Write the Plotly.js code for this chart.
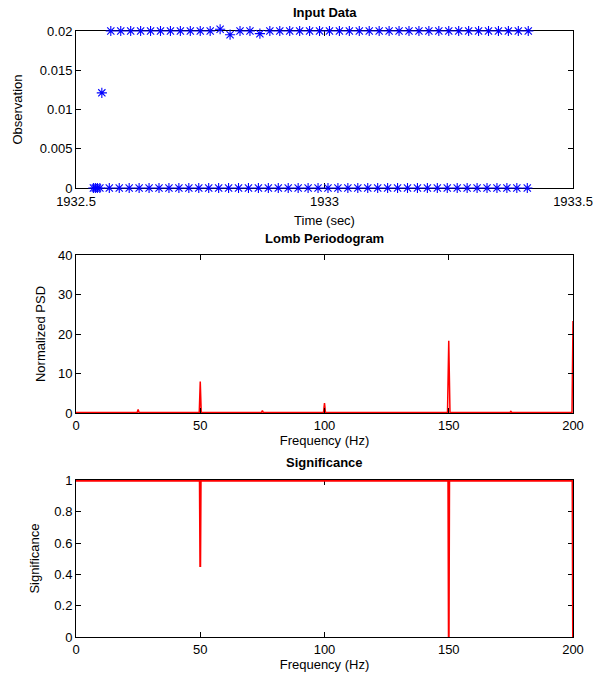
<!DOCTYPE html>
<html>
<head>
<meta charset="utf-8">
<script src="https://cdn.plot.ly/plotly-3.0.1.min.js"></script>
<style>html,body{margin:0;padding:0;background:#fff;}#chart{width:598px;height:681px;}</style>
</head>
<body>
<div id="chart"></div>
<script>
// ---- Input data (time in sec, observation) ----
var tHigh = [1932.570, 1932.590, 1932.610, 1932.630, 1932.650, 1932.670, 1932.690, 1932.710, 1932.730, 1932.750,
             1932.770, 1932.790, 1932.810, 1932.830, 1932.850, 1932.870, 1932.890, 1932.910, 1932.930, 1932.950,
             1932.970, 1932.990, 1933.010, 1933.030, 1933.050, 1933.070, 1933.090, 1933.110, 1933.130, 1933.150,
             1933.170, 1933.190, 1933.210, 1933.230, 1933.250, 1933.270, 1933.290, 1933.310, 1933.330, 1933.350,
             1933.370, 1933.390, 1933.410];
var obsHigh = [0.0200, 0.0200, 0.0200, 0.0200, 0.0200, 0.0200, 0.0200, 0.0200, 0.0200, 0.0200,
               0.0200, 0.02022, 0.01953, 0.0200, 0.0200, 0.01966, 0.0200, 0.0200, 0.0200, 0.0200,
               0.0200, 0.0200, 0.0200, 0.0200, 0.0200, 0.0200, 0.0200, 0.0200, 0.0200, 0.0200,
               0.0200, 0.0200, 0.0200, 0.0200, 0.0200, 0.0200, 0.0200, 0.0200, 0.0200, 0.0200,
               0.0200, 0.0200, 0.0200];
var tLow = [1932.535, 1932.539, 1932.543, 1932.548,
            1932.567, 1932.587, 1932.607, 1932.627, 1932.647, 1932.667, 1932.687, 1932.707, 1932.727, 1932.747,
            1932.767, 1932.787, 1932.807, 1932.827, 1932.847, 1932.867, 1932.887, 1932.907, 1932.927, 1932.947,
            1932.967, 1932.987, 1933.007, 1933.027, 1933.047, 1933.067, 1933.087, 1933.107, 1933.127, 1933.147,
            1933.167, 1933.187, 1933.207, 1933.227, 1933.247, 1933.267, 1933.287, 1933.307, 1933.327, 1933.347,
            1933.367, 1933.387, 1933.408];
var obsLow = [0, 0, 0, 0,
              0, 0, 0, 0, 0, 0, 0, 0, 0, 0,
              0, 0, 0, 0, 0, 0, 0, 0, 0, 0,
              0, 0, 0, 0, 0, 0, 0, 0, 0, 0,
              0, 0, 0, 0, 0, 0, 0, 0, 0, 0,
              0, 0, 0];
var tMid = [1932.552];
var obsMid = [0.01212];

// ---- Lomb periodogram ----
var freqPsd = [0, 24.6, 25, 25.4, 49.6, 50, 50.4, 74.6, 75, 75.4, 99.6, 100, 100.4,
               149.5, 150, 150.5, 174.6, 175, 175.4, 199.6, 200];
var psd = [0.1, 0.1, 0.9, 0.1, 0.1, 8.0, 0.1, 0.1, 0.6, 0.1, 0.1, 2.5, 0.1,
           0.1, 18.3, 0.1, 0.1, 0.4, 0.1, 0.1, 23.3];

// ---- Significance ----
var freqSig = [0, 49.8, 50, 50.2, 149.8, 150, 150.2, 199.8, 200];
var sig = [1, 1, 0.447, 1, 1, 0, 1, 1, 0];

// ---- tick labels ----
var xTicks1 = [1932.5, 1933, 1933.5];
var xTickText1 = ['1932.5', '1933', '1933.5'];
var yTicks1 = [0, 0.005, 0.01, 0.015, 0.02];
var yTickText1 = ['0', '0.005', '0.01', '0.015', '0.02'];
var xTicksF = [0, 50, 100, 150, 200];
var yTicks2 = [0, 10, 20, 30, 40];
var yTicks3 = [0, 0.2, 0.4, 0.6, 0.8, 1];
var yTickText3 = ['0', '0.2', '0.4', '0.6', '0.8', '1'];

var FONT = 'Liberation Sans, Arial, Helvetica, sans-serif';
var starMarker = {symbol: 'asterisk-open', size: 8.5, color: '#0000ff', line: {color: '#0000ff', width: 1.1}};

// panel geometry (plot area spans 616 px tall between margins)
var H = 616;
var p1 = [449 / H, 606 / H];      // input data panel
var p1ext = [449 / H, 1];         // same scale, extended upward so slightly-high points stay visible
var yMax1 = 0.02;
var yMax1ext = yMax1 * (H - 449) / (606 - 449);

var traces = [
  {x: [], y: [], xaxis: 'x', yaxis: 'y', mode: 'markers', hoverinfo: 'skip'},
  {x: tLow, y: obsLow, xaxis: 'x', yaxis: 'y4', mode: 'markers', marker: starMarker, cliponaxis: false, hoverinfo: 'skip'},
  {x: tMid, y: obsMid, xaxis: 'x', yaxis: 'y4', mode: 'markers', marker: starMarker, cliponaxis: false, hoverinfo: 'skip'},
  {x: tHigh, y: obsHigh, xaxis: 'x', yaxis: 'y4', mode: 'markers', marker: starMarker, cliponaxis: false, hoverinfo: 'skip'},
  {x: freqPsd, y: psd, xaxis: 'x2', yaxis: 'y2', mode: 'lines', line: {color: '#ff0000', width: 1.5}, hoverinfo: 'skip'},
  {x: freqSig, y: sig, xaxis: 'x3', yaxis: 'y3', mode: 'lines', line: {color: '#ff0000', width: 2}, hoverinfo: 'skip'}
];

function ax(extra) {
  var base = {
    showline: true, linecolor: '#000', linewidth: 1, mirror: 'ticks',
    ticks: 'inside', ticklen: 5, tickcolor: '#000', tickwidth: 1,
    showgrid: false, zeroline: false, fixedrange: true,
    tickfont: {family: FONT, size: 13, color: '#000'}
  };
  for (var k in extra) base[k] = extra[k];
  return base;
}
function ttl(t, s) { return {text: t, font: {family: FONT, size: 13, color: '#000'}, standoff: s}; }

var layout = {
  width: 598, height: 681,
  margin: {l: 76, r: 25, t: 21, b: 44},
  paper_bgcolor: '#fff', plot_bgcolor: 'rgba(0,0,0,0)',
  showlegend: false,
  font: {family: FONT, size: 13, color: '#000'},
  xaxis: ax({domain: [0, 1], anchor: 'y', range: [1932.5, 1933.5], tickvals: xTicks1, ticktext: xTickText1, ticklabelstandoff: 1, title: ttl('Time (sec)', 8)}),
  yaxis: ax({domain: p1, anchor: 'x', range: [0, yMax1], tickvals: yTicks1, ticktext: yTickText1, title: ttl('Observation', 14)}),
  yaxis4: {domain: p1ext, anchor: 'x', range: [0, yMax1ext], visible: false, fixedrange: true, showgrid: false, zeroline: false},
  xaxis2: ax({domain: [0, 1], anchor: 'y2', range: [0, 200], tickvals: xTicksF, title: ttl('Frequency (Hz)', 2)}),
  yaxis2: ax({domain: [224 / H, 382 / H], anchor: 'x2', range: [0, 40], tickvals: yTicks2, title: ttl('Normalized PSD', 9)}),
  xaxis3: ax({domain: [0, 1], anchor: 'y3', range: [0, 200], tickvals: xTicksF, title: ttl('Frequency (Hz)', 3), layer: 'below traces'}),
  yaxis3: ax({domain: [0, 157 / H], anchor: 'x3', range: [0, 1.004], tickvals: yTicks3, ticktext: yTickText3, title: ttl('Significance', 11), layer: 'below traces'}),
  annotations: [
    {text: '<b>Input Data</b>', xref: 'paper', yref: 'paper', x: 0.5, y: (637 - 12) / H, xanchor: 'center', yanchor: 'middle', showarrow: false, font: {family: FONT, size: 13, color: '#000'}},
    {text: '<b>Lomb Periodogram</b>', xref: 'paper', yref: 'paper', x: 0.5, y: (637 - 238) / H, xanchor: 'center', yanchor: 'middle', showarrow: false, font: {family: FONT, size: 13, color: '#000'}},
    {text: '<b>Significance</b>', xref: 'paper', yref: 'paper', x: 0.5, y: (637 - 463) / H, xanchor: 'center', yanchor: 'middle', showarrow: false, font: {family: FONT, size: 13, color: '#000'}}
  ]
};

Plotly.newPlot('chart', traces, layout, {displayModeBar: false, staticPlot: true});
</script>
</body>
</html>
